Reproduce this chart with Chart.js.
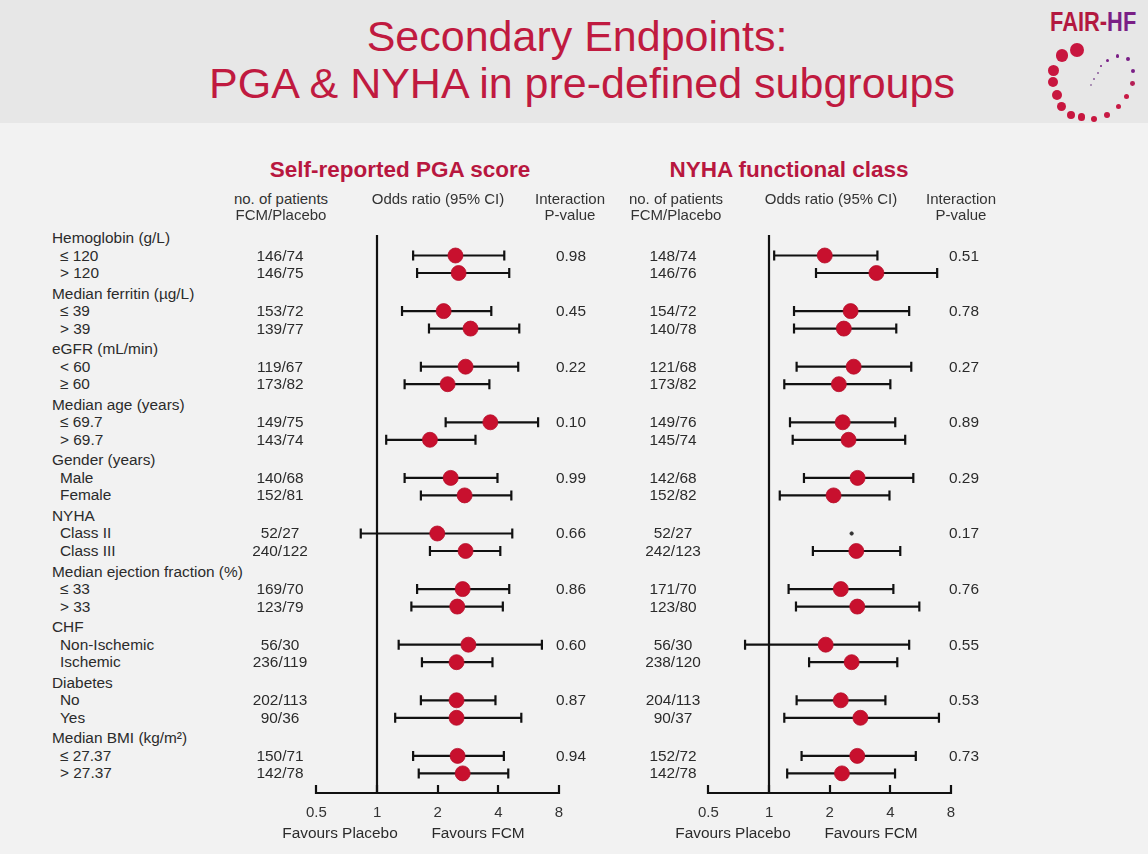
<!DOCTYPE html>
<html><head><meta charset="utf-8">
<script src="https://cdn.jsdelivr.net/npm/chart.js@4.4.1/dist/chart.umd.min.js"></script>
<style>
html,body{margin:0;padding:0;}
body{width:1148px;height:854px;overflow:hidden;background:#f2f2f2;font-family:"Liberation Sans",Arial,sans-serif;color:#2b2b2b;}
#page{position:relative;width:1148px;height:854px;}
#band{position:absolute;left:0;top:0;width:1148px;height:123px;background:#e7e7e7;}
.t{position:absolute;white-space:nowrap;line-height:1;}
.title{font-size:43px;color:#c01a40;}
.sub{font-size:22.5px;font-weight:bold;color:#b8173f;}
.hd{font-size:15px;color:#333;}
.row{font-size:15.4px;color:#2b2b2b;}
canvas{position:absolute;}
.dot{position:absolute;border-radius:50%;}
#logo{position:absolute;left:1050px;top:9px;font-family:"Liberation Sans",Arial,sans-serif;font-weight:bold;font-size:27px;line-height:1;white-space:nowrap;transform:scaleX(0.81);transform-origin:0 0;}
</style></head>
<body><div id="page">
<div id="band"></div>
<canvas id="cPGA" width="284" height="613" style="left:295px;top:220px;width:284px;height:613px"></canvas>
<canvas id="cNYHA" width="284" height="613" style="left:687px;top:220px;width:284px;height:613px"></canvas>
<div id="logo"><span style="color:#b3183f">FAIR-</span><span style="color:#7a1f86">HF</span></div>
</div>
<script>
// ---------- data ----------
const groups = ['Hemoglobin (g/L)','Median ferritin (\u00b5g/L)','eGFR (mL/min)','Median age (years)','Gender (years)','NYHA','Median ejection fraction (%)','CHF','Diabetes','Median BMI (kg/m\u00b2)'];
const subgroups = ['\u2264 120','> 120','\u2264 39','> 39','< 60','\u2265 60','\u2264 69.7','> 69.7','Male','Female','Class II','Class III','\u2264 33','> 33','Non-Ischemic','Ischemic','No','Yes','\u2264 27.37','> 27.37'];

const pgaN  = ['146/74','146/75','153/72','139/77','119/67','173/82','149/75','143/74','140/68','152/81','52/27','240/122','169/70','123/79','56/30','236/119','202/113','90/36','150/71','142/78'];
const pgaOR = [2.45,2.54,2.14,2.91,2.75,2.24,3.65,1.83,2.32,2.72,1.99,2.75,2.66,2.50,2.84,2.48,2.48,2.48,2.51,2.66];
const pgaLo = [1.51,1.58,1.33,1.81,1.65,1.37,2.19,1.11,1.37,1.65,0.83,1.83,1.58,1.48,1.28,1.67,1.65,1.23,1.51,1.61];
const pgaHi = [4.28,4.53,3.69,5.08,5.02,3.61,6.30,3.08,3.96,4.64,4.69,4.09,4.53,4.21,6.58,3.74,3.87,5.20,4.26,4.48];
const pgaP  = ['0.98','0.45','0.22','0.10','0.99','0.66','0.86','0.60','0.87','0.94'];

const nyhaN  = ['148/74','146/76','154/72','140/78','121/68','173/82','149/76','145/74','142/68','152/82','52/27','242/123','171/70','123/80','56/30','238/120','204/113','90/37','152/72','142/78'];
const nyhaOR = [1.89,3.41,2.54,2.35,2.63,2.22,2.32,2.48,2.75,2.09,2.57,2.71,2.27,2.74,1.91,2.57,2.27,2.84,2.74,2.30];
const nyhaLo = [1.06,1.71,1.33,1.33,1.37,1.19,1.27,1.31,1.49,1.13,null,1.65,1.25,1.36,0.76,1.58,1.37,1.19,1.45,1.23];
const nyhaHi = [3.45,6.83,4.96,4.28,5.08,4.00,4.23,4.74,5.20,3.96,null,4.48,4.14,5.57,4.96,4.33,3.78,6.97,5.35,4.22];
const nyhaP  = ['0.51','0.78','0.27','0.89','0.29','0.17','0.76','0.55','0.53','0.73'];

const xTicks = [0.5,1,2,4,8];

// ---------- layout helpers ----------
const GROUP_STEP = 3.177;          // rows per group (header + 2 subgroups + gap)
const Y_MIN = -0.343, Y_MAX = 31.714;
const headerPos = groups.map((g,i)=> i*GROUP_STEP);
const rowPos = subgroups.map((s,i)=> Math.floor(i/2)*GROUP_STEP + (i%2) + 1);

const page = document.getElementById('page');
function put(text, x, y, cls, align){
  const d = document.createElement('div');
  d.className = 't ' + cls;
  d.textContent = text;
  d.style.left = x + 'px';
  d.style.top = y + 'px';
  const tx = align==='center' ? '-50%' : (align==='right' ? '-100%' : '0');
  d.style.transform = 'translate(' + tx + ',-50%)';
  page.appendChild(d);
  return d;
}

function errPlugin(LO, HI){
  return {
    id:'errbars',
    beforeDatasetsDraw(chart){
      const {ctx, chartArea, scales:{x, y}} = chart;
      ctx.save();
      ctx.strokeStyle = '#111';
      ctx.lineWidth = 2.2;
      ctx.lineCap = 'butt';
      // reference line at OR = 1
      const x1 = Math.round(x.getPixelForValue(1));
      ctx.beginPath();
      ctx.moveTo(x1, chartArea.top + 3);
      ctx.lineTo(x1, chartArea.bottom);
      ctx.stroke();
      // axis line with upward ticks
      const yb = chartArea.bottom;
      ctx.beginPath();
      ctx.moveTo(x.getPixelForValue(xTicks[0]) - 1, yb);
      ctx.lineTo(x.getPixelForValue(xTicks[xTicks.length-1]) + 1, yb);
      xTicks.forEach(v=>{
        const px = Math.round(x.getPixelForValue(v));
        ctx.moveTo(px, yb + 1);
        ctx.lineTo(px, yb - 8);
      });
      ctx.stroke();
      // error bars
      rowPos.forEach((p,i)=>{
        if (LO[i]==null || HI[i]==null) return;
        const py = y.getPixelForValue(p);
        const a = x.getPixelForValue(LO[i]), b = x.getPixelForValue(HI[i]);
        ctx.beginPath();
        ctx.moveTo(a, py); ctx.lineTo(b, py);
        ctx.moveTo(a, py-5); ctx.lineTo(a, py+5);
        ctx.moveTo(b, py-5); ctx.lineTo(b, py+5);
        ctx.stroke();
      });
      ctx.restore();
    }
  };
}

function makeChart(id, OR, LO, HI){
  return new Chart(document.getElementById(id), {
    type:'scatter',
    data:{datasets:[{
      data: OR.map((v,i)=>({x:v, y:rowPos[i]})),
      pointRadius: c => LO[c.dataIndex]==null ? 1.7 : 7.5,
      pointHoverRadius: c => LO[c.dataIndex]==null ? 1.7 : 7.5,
      backgroundColor: c => LO[c.dataIndex]==null ? '#333' : '#c8102e',
      borderColor: c => LO[c.dataIndex]==null ? '#333' : '#b50e2a',
      borderWidth: 0.8
    }]},
    options:{
      responsive:false, animation:false, events:[],
      layout:{padding:{left:20,right:20,top:12,bottom:0}},
      plugins:{legend:{display:false}, tooltip:{enabled:false}},
      scales:{
        x:{type:'logarithmic', min:0.5, max:8,
           afterBuildTicks: s => { s.ticks = xTicks.map(v=>({value:v})); },
           afterFit: s => { s.height = 40; },
           grid:{display:false, drawTicks:false}, border:{display:false},
           ticks:{padding:11, color:'#333', autoSkip:false, maxRotation:0, minRotation:0,
                  font:{family:'"Liberation Sans", Arial, sans-serif', size:15},
                  callback: v => String(v)}},
        y:{type:'linear', reverse:true, min:Y_MIN, max:Y_MAX, display:false}
      }
    },
    plugins:[errPlugin(LO, HI)]
  });
}

const chL = makeChart('cPGA', pgaOR, pgaLo, pgaHi);
const chR = makeChart('cNYHA', nyhaOR, nyhaLo, nyhaHi);

// ---------- texts ----------
put('Secondary Endpoints:', 577, 36, 'title', 'center');
put('PGA & NYHA in pre-defined subgroups', 582, 83, 'title', 'center');
put('Self-reported PGA score', 400, 170, 'sub', 'center');
put('NYHA functional class', 789, 170, 'sub', 'center');

[[281,438,570],[676,831,961]].forEach(c=>{
  put('no. of patients', c[0], 198, 'hd', 'center');
  put('FCM/Placebo', c[0], 214, 'hd', 'center');
  put('Odds ratio (95% CI)', c[1], 198, 'hd', 'center');
  put('Interaction', c[2], 198, 'hd', 'center');
  put('P-value', c[2], 214, 'hd', 'center');
});

const yL = chL.scales.y, yR = chR.scales.y;
const topL = 220, topR = 220;
groups.forEach((g,i)=> put(g, 52, topL + yL.getPixelForValue(headerPos[i]), 'row', 'left'));
subgroups.forEach((s,i)=>{
  const py = topL + yL.getPixelForValue(rowPos[i]);
  put(s, 60, py, 'row', 'left');
  put(pgaN[i], 280, py, 'row', 'center');
  const pyR = topR + yR.getPixelForValue(rowPos[i]);
  put(nyhaN[i], 673, pyR, 'row', 'center');
});
pgaP.forEach((p,g)=> put(p, 571, topL + yL.getPixelForValue(rowPos[g*2]), 'row', 'center'));
nyhaP.forEach((p,g)=> put(p, 964, topR + yR.getPixelForValue(rowPos[g*2]), 'row', 'center'));

put('Favours Placebo', 340, 833, 'row', 'center');
put('Favours FCM', 478, 833, 'row', 'center');
put('Favours Placebo', 733, 833, 'row', 'center');
put('Favours FCM', 871, 833, 'row', 'center');

// ---------- logo (decoration) ----------
const logoDots = [
  [1076.7,50,7.2,'#c8163f'],[1061.7,55.5,6.2,'#c8163f'],[1053,70,5.5,'#c8163f'],[1052.7,81.7,5.2,'#c8163f'],
  [1056.7,95,5,'#c8163f'],[1061.7,106.7,4.6,'#c8163f'],[1070.7,115,4.2,'#c8163f'],[1081.7,117,3.8,'#c8163f'],
  [1094,119,3.4,'#c8163f'],[1106.7,115,3,'#c81a45'],[1118.3,106.7,2.8,'#c81a45'],[1126.7,96.7,2.6,'#c81a45'],
  [1132.7,83.3,2.4,'#b51f55'],[1133.3,70.7,2.1,'#7a1f86'],[1128.3,59.3,1.9,'#7a1f86'],[1117.3,56,1.7,'#7a1f86'],
  [1107.3,60,1.5,'#7a1f86'],[1101,66,1.3,'#7a1f86'],[1097.7,72.7,1.1,'#8a5a9a'],[1094.3,79.3,1,'#8a5a9a'],[1091,85,0.9,'#9a7aa8']
];
logoDots.forEach(d=>{
  const e = document.createElement('div');
  e.className = 'dot';
  e.style.left = (d[0]-d[2])+'px'; e.style.top = (d[1]-d[2])+'px';
  e.style.width = (2*d[2])+'px'; e.style.height = (2*d[2])+'px';
  e.style.background = d[3];
  page.appendChild(e);
});
</script>
</body></html>
